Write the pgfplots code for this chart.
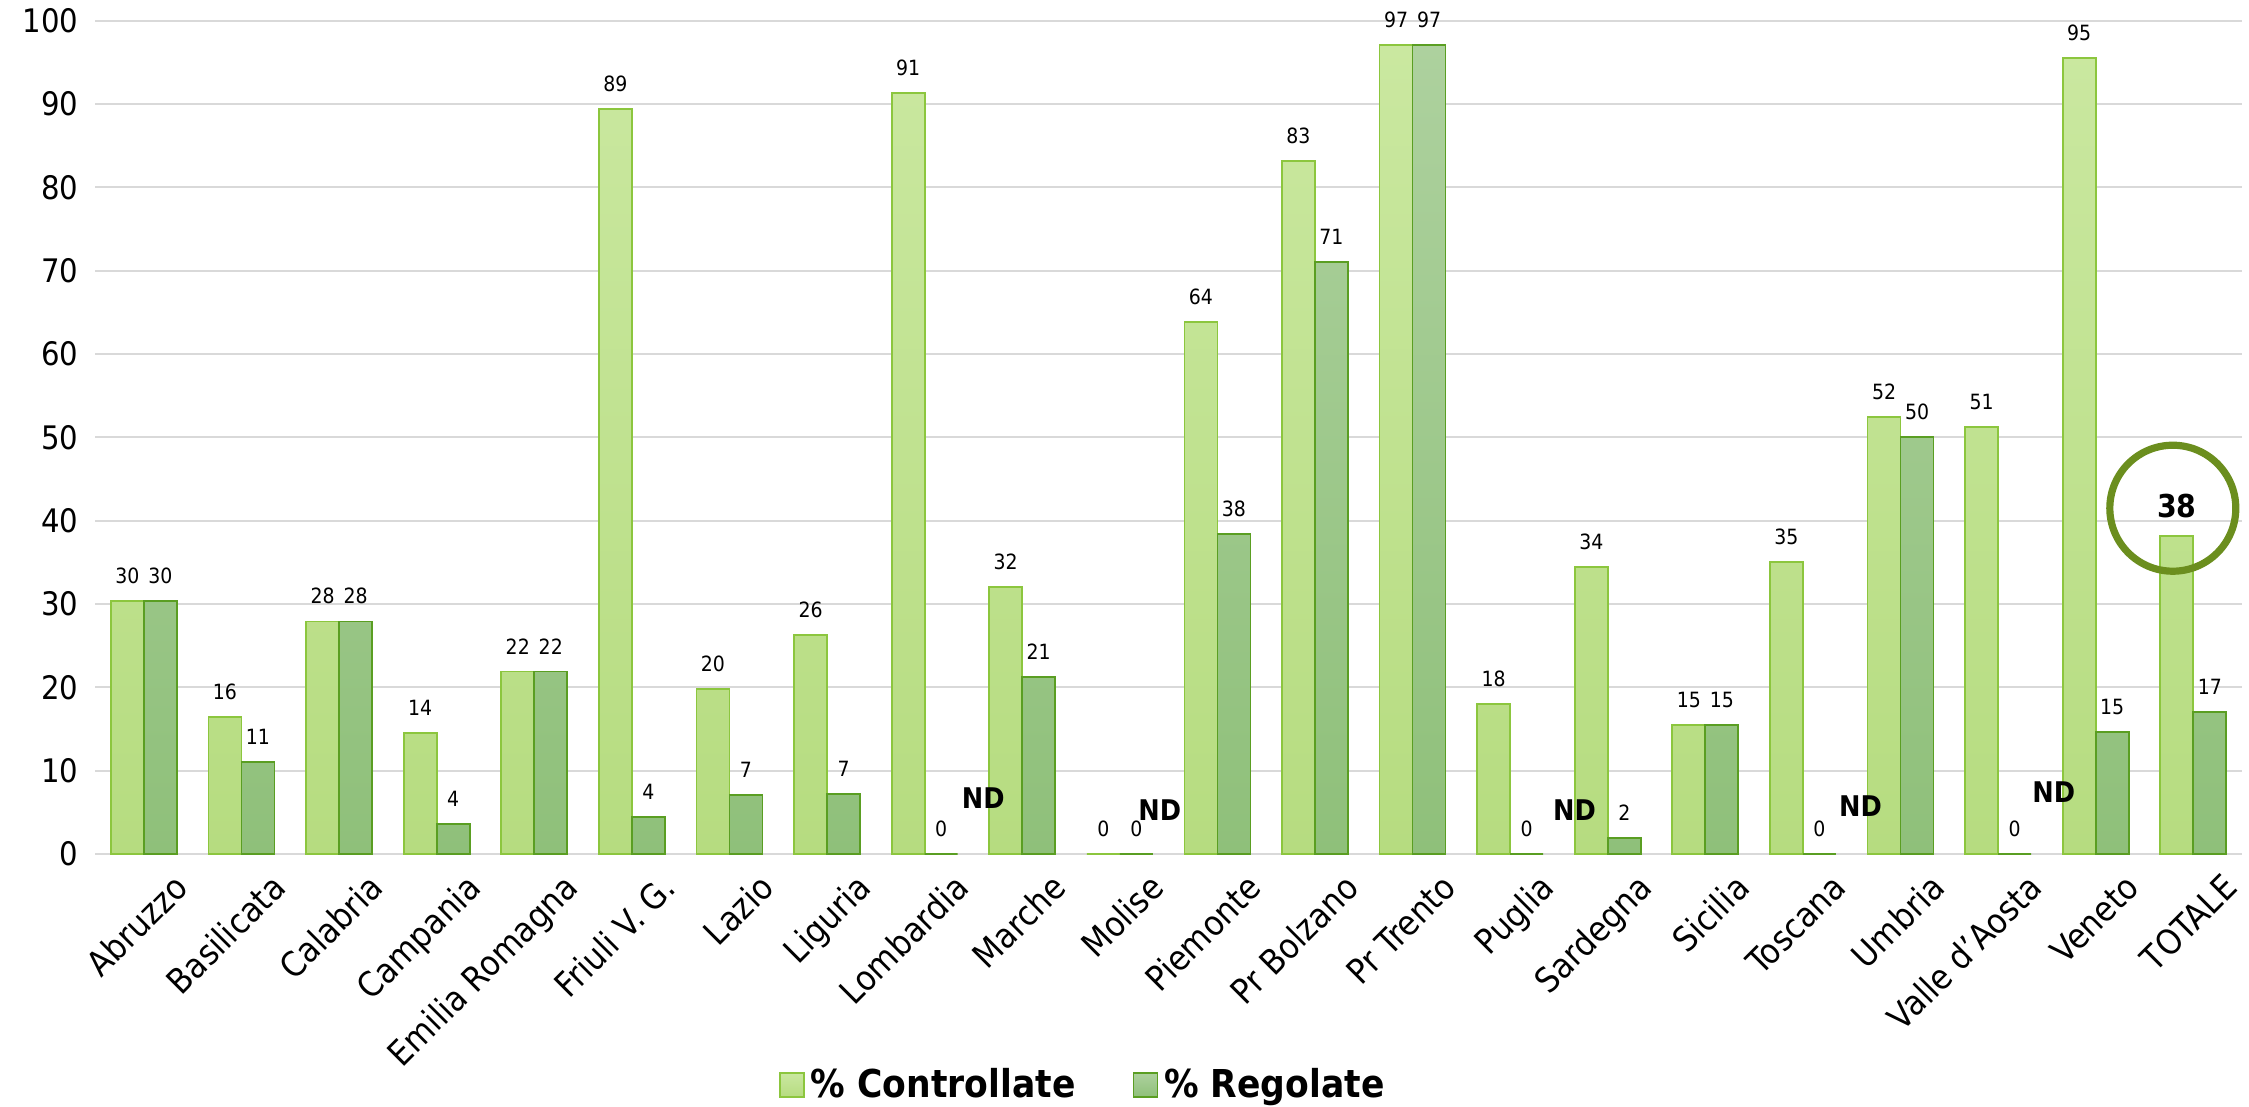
\documentclass[border=0pt]{standalone}
\usepackage{fontspec}
\setmainfont{DejaVu Sans Condensed}
\usepackage{pgfplots}
\pgfplotsset{compat=1.18}

\definecolor{ctrltop}{RGB}{202,232,160}
\definecolor{ctrlbot}{RGB}{182,220,128}
\definecolor{ctrledge}{RGB}{140,198,62}
\definecolor{regtop}{RGB}{173,209,158}
\definecolor{regbot}{RGB}{143,192,122}
\definecolor{regedge}{RGB}{90,158,34}
\definecolor{ring}{RGB}{107,142,30}
\definecolor{gridgrey}{RGB}{217,217,217}

\newcommand\tot{\textbf{\fontsize{10.5}{12}\selectfont 38}}

\begin{document}
\begin{tikzpicture}
\path[use as bounding box] (-31.7pt,-84.3pt) rectangle (718pt,284.7pt);
\begin{axis}[
    scale only axis,
    width=715.7pt, height=277.8pt,
    ybar=0pt, bar width=11pt,
    xmin=-0.5, xmax=21.5, ymin=0, ymax=100,
    enlarge x limits=false,
    xtick={0,...,21},
    xticklabels={Abruzzo,Basilicata,Calabria,Campania,Emilia Romagna,Friuli V. G.,Lazio,Liguria,Lombardia,Marche,Molise,Piemonte,Pr Bolzano,Pr Trento,Puglia,Sardegna,Sicilia,Toscana,Umbria,Valle d'Aosta,Veneto,TOTALE},
    ytick={0,10,...,100},
    /pgf/number format/assume math mode=true,
    major tick length=0pt,
    axis line style={draw=none},
    ymajorgrids, grid style={gridgrey, line width=0.6pt},
    xticklabel style={rotate=45, anchor=north east, font=\fontsize{11.5}{13}\selectfont, inner sep=0pt, xshift=2.5pt, yshift=-10.5pt},
    yticklabel style={font=\fontsize{10.8}{12}\selectfont, xshift=-2pt},
    point meta=explicit symbolic,
    nodes near coords,
    every node near coord/.append style={font=\fontsize{7}{8}\selectfont, inner sep=0pt, yshift=5.5pt, text=black},
    legend columns=2,
    legend style={draw=none, at={(0.461,-0.277)}, anchor=center, font=\bfseries\fontsize{12.8}{15}\selectfont,
        /tikz/every even column/.append style={column sep=17pt}},
    legend image code/.code={\draw[#1] (0pt,-4pt) rectangle (8pt,4pt);},
]
\addplot[top color=ctrltop, bottom color=ctrlbot, draw=ctrledge, line width=0.6pt] coordinates {
(0,30.4)[30] (1,16.4)[16] (2,27.9)[28] (3,14.5)[14] (4,21.9)[22] (5,89.4)[89]
(6,19.8)[20] (7,26.3)[26] (8,91.3)[91] (9,32.0)[32] (10,0)[0] (11,63.8)[64]
(12,83.2)[83] (13,97.1)[97] (14,18.0)[18] (15,34.4)[34] (16,15.5)[15] (17,35.0)[35]
(18,52.4)[52] (19,51.2)[51] (20,95.5)[95] (21,38.2)[\tot]
};
\addlegendentry{\% Controllate}
\addplot[top color=regtop, bottom color=regbot, draw=regedge, line width=0.6pt] coordinates {
(0,30.4)[30] (1,11.0)[11] (2,27.9)[28] (3,3.6)[4] (4,21.9)[22] (5,4.4)[4]
(6,7.1)[7] (7,7.2)[7] (8,0)[0] (9,21.2)[21] (10,0)[0] (11,38.4)[38]
(12,71.0)[71] (13,97.1)[97] (14,0)[0] (15,1.9)[2] (16,15.5)[15] (17,0)[0]
(18,50.0)[50] (19,0)[0] (20,14.6)[15] (21,17.0)[17]
};
\addlegendentry{\% Regolate}
\begin{scope}[font=\bfseries\fontsize{9.5}{11}\selectfont]
\node at (axis cs:8.6,6.7) {ND};
\node at (axis cs:10.41,5.3) {ND};
\node at (axis cs:14.66,5.3) {ND};
\node at (axis cs:17.59,5.8) {ND};
\node at (axis cs:19.57,7.4) {ND};
\end{scope}
\draw[ring, line width=2.4pt] (axis cs:20.79,41.5) circle[radius=21pt];
\end{axis}
\end{tikzpicture}
\end{document}
